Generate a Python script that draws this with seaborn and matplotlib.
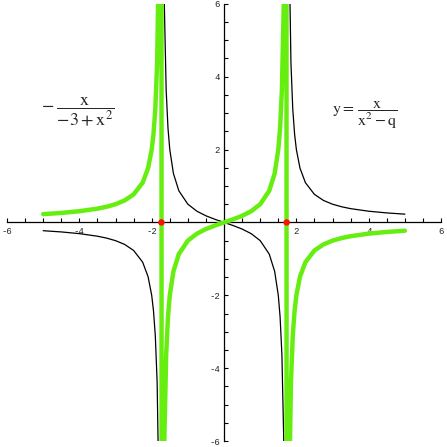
import numpy as np
import pandas as pd
import matplotlib.pyplot as plt
from matplotlib.ticker import FixedLocator, MultipleLocator
import seaborn as sns

# sample points
x_vals = [-5, -4.5, -4, -3.5, -3.25, -3, -2.75, -2.5, -2.25, -2.1, -2, -1.95, -1.9, -1.85,
          -1.8, -1.78, -1.76, -1.74, -1.72, -1.7, -1.68, -1.65, -1.6, -1.55, -1.5, -1.4,
          -1.25, -1, -0.75, -0.5, -0.25, 0,
          0.25, 0.5, 0.75, 1, 1.25, 1.4, 1.5, 1.55, 1.6, 1.65, 1.68, 1.7, 1.72, 1.74,
          1.76, 1.78, 1.8, 1.85, 1.9, 1.95, 2, 2.1, 2.25, 2.5, 2.75, 3, 3.25, 3.5, 4, 4.5, 5]

black_y = [-0.2273, -0.2609, -0.3077, -0.3784, -0.4298, -0.5, -0.6027, -0.7692, -1.0909,
           -1.4894, -2.0, -2.4299, -3.1148, -4.3787, -7.5, -10.570, -18.033, -63.043,
           41.346, 15.455, 9.4595, 5.9459, 3.6364, 2.5941, 2.0, 1.3462, 0.8696, 0.5,
           0.3077, 0.1818, 0.0851, 0,
           -0.0851, -0.1818, -0.3077, -0.5, -0.8696, -1.3462, -2.0, -2.5941, -3.6364,
           -5.9459, -9.4595, -15.455, -41.346, 63.043, 18.033, 10.570, 7.5, 4.3787,
           3.1148, 2.4299, 2.0, 1.4894, 1.0909, 0.7692, 0.6027, 0.5, 0.4298, 0.3784,
           0.3077, 0.2609, 0.2273]

green_y = [0.2273, 0.2609, 0.3077, 0.3784, 0.4298, 0.5, 0.6027, 0.7692, 1.0909,
           1.4894, 2.0, 2.4299, 3.1148, 4.3787, 7.5, 10.570, 18.033, 63.043,
           -41.346, -15.455, -9.4595, -5.9459, -3.6364, -2.5941, -2.0, -1.3462, -0.8696,
           -0.5, -0.3077, -0.1818, -0.0851, 0,
           0.0851, 0.1818, 0.3077, 0.5, 0.8696, 1.3462, 2.0, 2.5941, 3.6364,
           5.9459, 9.4595, 15.455, 41.346, -63.043, -18.033, -10.570, -7.5, -4.3787,
           -3.1148, -2.4299, -2.0, -1.4894, -1.0909, -0.7692, -0.6027, -0.5, -0.4298,
           -0.3784, -0.3077, -0.2609, -0.2273]

pole_x = [-1.732, 1.732]
pole_y = [0, 0]

tick_vals = [-6, -4, -2, 2, 4, 6]
tick_text = ['-6', '-4', '-2', '2', '4', '6']

df = pd.DataFrame({'x': x_vals, 'black': black_y, 'green': green_y})
xs = np.array(x_vals)
df['branch'] = np.where(xs < -1.73, 0, np.where(xs > 1.73, 2, 1))

sns.set_style('white')
plt.rcParams['mathtext.fontset'] = 'stix'

fig = plt.figure(figsize=(4.47, 4.47), dpi=100)
ax = fig.add_axes([0.0157, 0.0134, 0.971, 0.978])

sns.lineplot(data=df, x='x', y='black', units='branch', estimator=None, sort=False,
             color='black', lw=0.9, ax=ax, zorder=2)
sns.lineplot(data=df, x='x', y='green', estimator=None, sort=False,
             color='#66EE11', lw=3.2, ax=ax, zorder=3)
sns.scatterplot(x=pole_x, y=pole_y, color='#FF1010', s=22, edgecolor='none', ax=ax, zorder=4)

ax.set_xlim(-6, 6)
ax.set_ylim(-6, 6)
ax.set_xlabel('')
ax.set_ylabel('')

ax.spines['left'].set_position('zero')
ax.spines['bottom'].set_position('zero')
ax.spines['top'].set_visible(False)
ax.spines['right'].set_visible(False)
for s in ['left', 'bottom']:
    ax.spines[s].set_linewidth(0.9)
    ax.spines[s].set_color('black')

ax.xaxis.set_major_locator(FixedLocator(tick_vals))
ax.yaxis.set_major_locator(FixedLocator(tick_vals))
ax.xaxis.set_minor_locator(MultipleLocator(0.5))
ax.yaxis.set_minor_locator(MultipleLocator(0.5))
ax.set_xticklabels(tick_text, fontfamily='Liberation Mono', fontsize=6.5)
ax.set_yticklabels(tick_text, fontfamily='Liberation Mono', fontsize=6.5)
ax.tick_params(which='both', bottom=True, left=True, direction='in', length=2.8,
               width=0.8, color='black', pad=3)

ax.text(-4.05, 3.05, r'$-\;\dfrac{\mathrm{x}}{-3+\mathrm{x}^{2}}$', fontsize=13,
        ha='center', va='center')
ax.text(3.9, 2.95, r'$\mathrm{y}{=}\,\dfrac{\mathrm{x}}{\mathrm{x}^{2}-\mathrm{q}}$', fontsize=11.5,
        ha='center', va='center')

fig.savefig('out.png', dpi=100)
